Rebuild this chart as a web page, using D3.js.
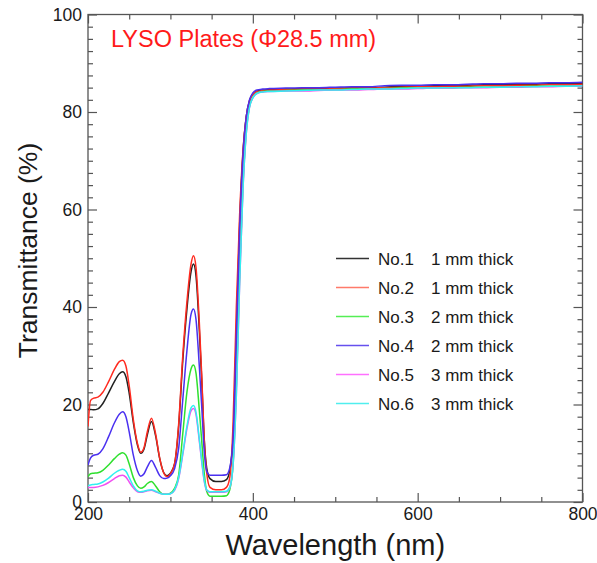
<!DOCTYPE html>
<html>
<head>
<meta charset="utf-8">
<script src="https://cdn.jsdelivr.net/npm/d3@7/dist/d3.min.js"></script>
<style>
  html, body { margin: 0; padding: 0; background: #fff; }
  svg { display: block; font-family: "Liberation Sans", Arial, sans-serif; }
</style>
</head>
<body>
<svg id="chart" width="597" height="563"></svg>
<script>
// ---- data ----
const wavelengths = [200,203,207,212,218,225,232,238,242,246,250,255,260,264,268,272,277,282,287,292,296,300,305,310,315,320,325,328,331,335,338,341,344,348,355,362,368,372,376,380,384,388,392,396,400,405,412,420,440,460,480,500,520,540,560,580,600,620,640,660,680,700,720,740,760,780,800];

const no1 = [19.0,19.0,18.9,19.1,20.2,22.4,24.7,26.3,26.7,25.7,22.3,16.3,11.7,10.0,10.9,13.8,16.5,13.6,8.9,6.0,5.4,5.9,7.8,15.5,29.0,39.5,47.2,48.8,46.5,35.5,25.0,13.0,7.0,4.8,4.2,4.2,4.6,6.5,13,35,57,71.5,79,82.3,83.7,84.3,84.5,84.6,84.7,84.8,84.8,84.9,85.0,85.0,85.1,85.3,85.3,85.4,85.4,85.5,85.6,85.6,85.7,85.7,85.8,85.8,85.9];
const no2 = [15.5,20.8,21.3,21.5,22.5,24.7,27.2,28.8,29.1,27.9,23.8,16.9,12.0,10.2,11.2,14.4,17.2,14.0,9.0,5.9,5.2,5.8,7.8,16.0,30.0,41.0,48.8,50.5,48.2,37.0,26.0,12.8,6.0,3.0,2.5,2.5,3.0,5.0,16,40,59,72,79,82.3,83.6,84.2,84.4,84.5,84.6,84.7,84.7,84.8,84.9,84.9,85.0,85.1,85.2,85.2,85.3,85.3,85.4,85.4,85.5,85.5,85.6,85.6,85.7];
const no3 = [5.2,5.8,5.9,6.0,6.5,7.6,8.9,9.8,10.1,9.6,7.8,5.0,3.3,2.8,3.1,3.8,4.2,3.3,2.1,1.6,1.6,1.8,2.8,5.5,14.0,22.5,27.3,28.1,26.5,19.0,12.5,6.0,2.2,1.2,1.2,1.2,1.3,2.5,8,24,47,65,76,81.2,83.0,83.9,84.2,84.3,84.4,84.5,84.5,84.6,84.7,84.7,84.8,84.9,84.9,85.0,85.0,85.1,85.1,85.2,85.2,85.3,85.3,85.4,85.4];
const no4 = [7.6,9.0,9.6,9.8,10.9,13.4,16.2,18.0,18.5,17.5,14.4,9.6,6.4,5.3,5.8,7.2,8.5,7.1,5.4,4.8,4.9,5.4,6.8,11.0,21.0,31.0,38.5,39.6,37.5,28.0,19.5,10.5,6.3,5.5,5.5,5.5,5.6,7.0,13,34,56,71,79,82.5,83.9,84.5,84.7,84.8,84.9,85.0,85.0,85.1,85.2,85.2,85.4,85.5,85.5,85.6,85.6,85.7,85.8,85.8,85.9,85.9,86.0,86.0,86.1];
const no5 = [3.0,3.0,3.0,3.1,3.4,4.0,4.8,5.4,5.5,5.1,4.1,2.9,2.1,2.0,2.1,2.3,2.4,2.1,1.8,1.6,1.6,1.7,2.4,4.8,9.7,15.0,18.7,19.2,18.0,12.6,8.2,4.3,2.4,2.0,2.0,2.0,2.1,3.0,7.5,22,45,64,75.5,81,82.9,83.8,84.1,84.2,84.3,84.3,84.4,84.5,84.5,84.6,84.7,84.7,84.8,84.9,84.9,85.0,85.0,85.1,85.1,85.2,85.2,85.3,85.3];
const no6 = [3.3,3.5,3.6,3.7,4.1,4.9,5.9,6.5,6.7,6.3,5.0,3.3,2.3,2.1,2.2,2.4,2.5,2.2,1.8,1.6,1.6,1.7,2.5,5.0,10.0,15.5,19.3,19.8,18.5,13.0,8.5,4.5,2.5,2.1,2.1,2.1,2.2,3.0,7.5,22,45,64,75.5,81,82.9,83.8,84.1,84.2,84.3,84.4,84.5,84.5,84.6,84.7,84.7,84.8,84.9,84.9,85.0,85.0,85.1,85.1,85.2,85.2,85.3,85.3,85.4];

const seriesNames = ["No.1", "No.2", "No.3", "No.4", "No.5", "No.6"];
const thickness = ["1 mm thick", "1 mm thick", "2 mm thick", "2 mm thick", "3 mm thick", "3 mm thick"];
const seriesValues = [no1, no2, no3, no4, no5, no6];
const lineColors = ["#222222", "#ff2a1f", "#2fe02f", "#4a30f0", "#f050f0", "#30f0f0"];
const legendColors = ["#333333", "#ff7a6a", "#55ee55", "#6650ee", "#ff70ff", "#50eeee"];
const drawOrder = [0, 1, 2, 4, 5, 3];

const xMajor = [200, 400, 600, 800];
const xMinor = [250, 300, 350, 450, 500, 550, 650, 700, 750];
const yMajor = [0, 20, 40, 60, 80, 100];
const yMinor = [2.5,5,7.5,10,12.5,15,17.5,22.5,25,27.5,30,32.5,35,37.5,42.5,45,47.5,50,52.5,55,57.5,62.5,65,67.5,70,72.5,75,77.5,82.5,85,87.5,90,92.5,95,97.5];

const titleText = "LYSO Plates (\u03A628.5 mm)";
const xTitle = "Wavelength (nm)";
const yTitle = "Transmittance (%)";

// ---- layout ----
const L = 88, R = 582.5, T = 14.5, B = 502;
const svg = d3.select("#chart");
const x = d3.scaleLinear().domain([200, 800]).range([L, R]);
const y = d3.scaleLinear().domain([0, 100]).range([B, T]);

const axisColor = "#555";
const labelColor = "#1a1a1a";

function styleAxis(g) {
  g.select(".domain").remove();
  g.selectAll(".tick line").attr("stroke", axisColor).attr("stroke-width", 1.2);
  g.selectAll(".tick text").attr("fill", labelColor).style("font-size", "17.5px")
    .style("font-family", "'Liberation Sans', Arial, sans-serif");
}

// bottom
svg.append("g").attr("transform", `translate(0,${B})`)
  .call(d3.axisBottom(x).tickValues(xMajor).tickSize(-9).tickPadding(6).tickFormat(d3.format("d")))
  .call(styleAxis);
svg.append("g").attr("transform", `translate(0,${B})`)
  .call(d3.axisBottom(x).tickValues(xMinor).tickSize(-5).tickFormat(""))
  .call(styleAxis);
// top
svg.append("g").attr("transform", `translate(0,${T})`)
  .call(d3.axisTop(x).tickValues(xMajor).tickSize(-9).tickFormat(""))
  .call(styleAxis);
svg.append("g").attr("transform", `translate(0,${T})`)
  .call(d3.axisTop(x).tickValues(xMinor).tickSize(-5).tickFormat(""))
  .call(styleAxis);
// left
svg.append("g").attr("transform", `translate(${L},0)`)
  .call(d3.axisLeft(y).tickValues(yMajor).tickSize(-9).tickPadding(6).tickFormat(d3.format("d")))
  .call(styleAxis);
svg.append("g").attr("transform", `translate(${L},0)`)
  .call(d3.axisLeft(y).tickValues(yMinor).tickSize(-5).tickFormat(""))
  .call(styleAxis);
// right
svg.append("g").attr("transform", `translate(${R},0)`)
  .call(d3.axisRight(y).tickValues(yMajor).tickSize(-9).tickFormat(""))
  .call(styleAxis);
svg.append("g").attr("transform", `translate(${R},0)`)
  .call(d3.axisRight(y).tickValues(yMinor).tickSize(-5).tickFormat(""))
  .call(styleAxis);

// frame
svg.append("rect").attr("x", L).attr("y", T).attr("width", R - L).attr("height", B - T)
  .attr("fill", "none").attr("stroke", axisColor).attr("stroke-width", 1.3);

// lines
const line = d3.line().x((d, i) => x(wavelengths[i])).y(d => y(d)).curve(d3.curveMonotoneX);
const clip = svg.append("clipPath").attr("id", "plotclip").append("rect")
  .attr("x", L).attr("y", T).attr("width", R - L).attr("height", B - T);
const gLines = svg.append("g").attr("clip-path", "url(#plotclip)");
drawOrder.forEach(k => {
  gLines.append("path").datum(seriesValues[k])
    .attr("d", line).attr("fill", "none")
    .attr("stroke", lineColors[k]).attr("stroke-width", 1.5)
    .attr("stroke-linejoin", "round");
});

// title
svg.append("text").attr("x", 111).attr("y", 47).attr("fill", "#ff1a1a")
  .style("font-size", "23.5px").text(titleText);

// legend
const legY0 = 258.5, legDy = 29;
seriesNames.forEach((name, i) => {
  const yy = legY0 + i * legDy;
  svg.append("line").attr("x1", 336).attr("x2", 369).attr("y1", yy).attr("y2", yy)
    .attr("stroke", legendColors[i]).attr("stroke-width", 1.4);
  svg.append("text").attr("x", 378).attr("y", yy + 6).attr("fill", labelColor)
    .style("font-size", "17px").text(name);
  svg.append("text").attr("x", 431).attr("y", yy + 6).attr("fill", labelColor)
    .style("font-size", "17px").text(thickness[i]);
});

// axis titles
svg.append("text").attr("x", (L + R) / 2).attr("y", 555).attr("text-anchor", "middle")
  .attr("fill", labelColor).style("font-size", "29px").text(xTitle);
svg.append("text").attr("transform", "translate(37,250.5) rotate(-90)").attr("text-anchor", "middle")
  .attr("fill", labelColor).style("font-size", "26.5px").text(yTitle);
</script>
</body>
</html>
